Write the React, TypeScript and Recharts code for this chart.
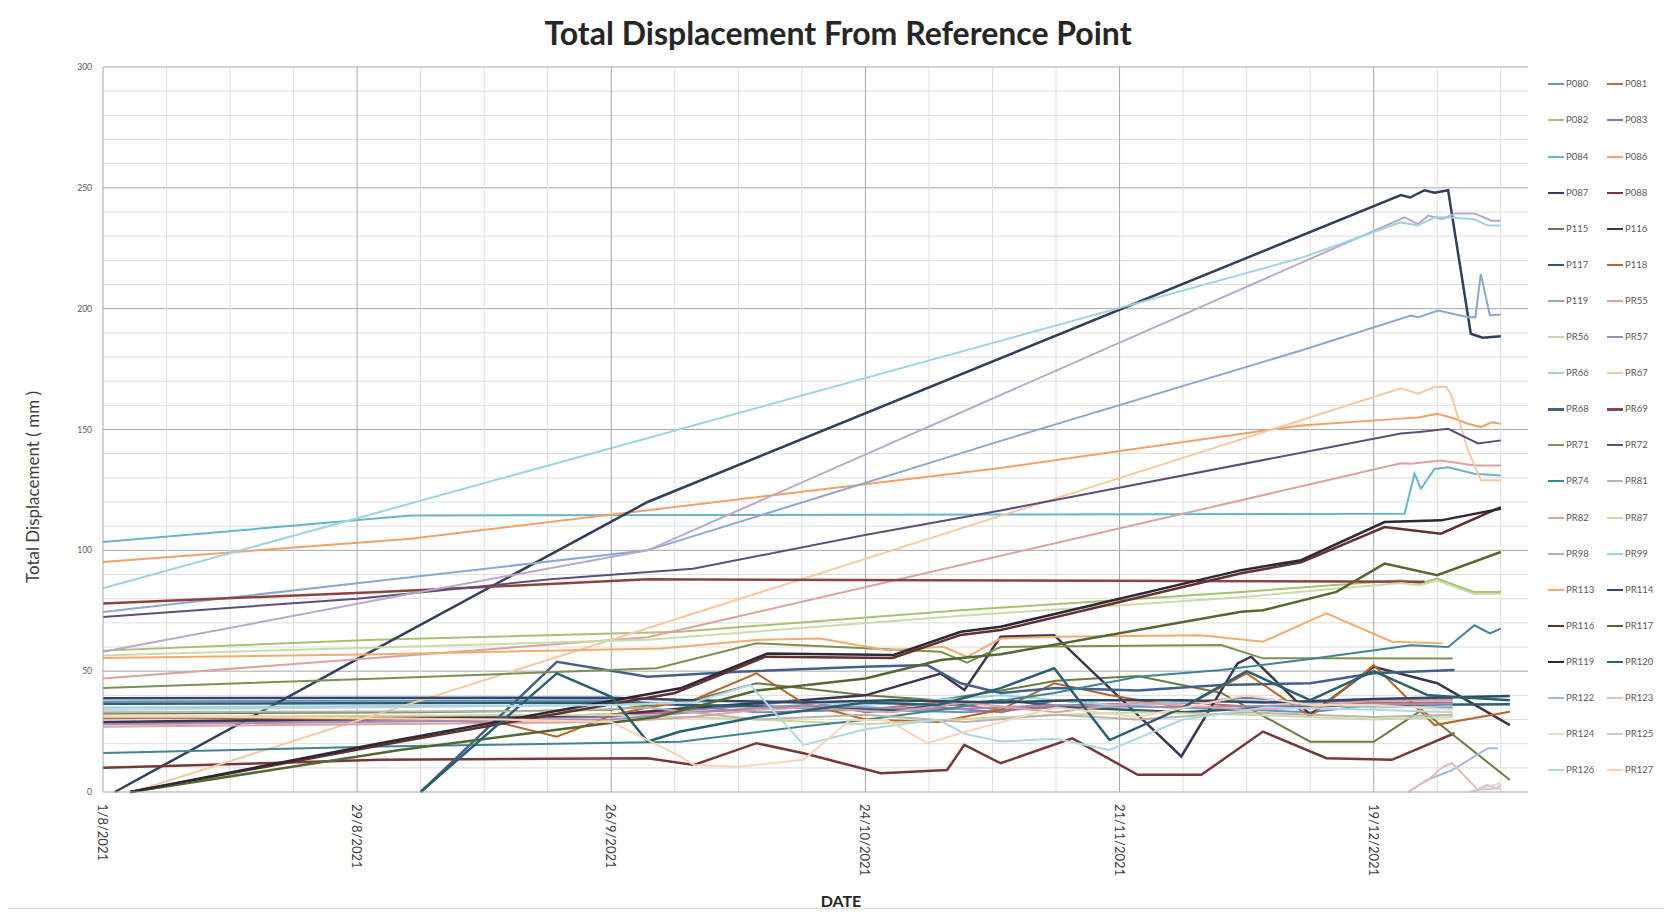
import { LineChart, Line, XAxis, YAxis, ReferenceLine } from "recharts";

// points are [days since 1/8/2021, displacement mm]
type Pt = [number, number];

const START = Date.UTC(2021, 7, 1);
const DATE_TICKS = [0, 28, 56, 84, 112, 140];
const MM_TICKS = [0, 50, 100, 150, 200, 250, 300];

const P080: Pt[] = [[0, 37.5], [56, 38], [60, 37], [72, 33], [84, 34], [95, 33], [105, 35], [114, 35.5], [126, 34], [133, 33], [140, 36], [148.7, 35]];
const P081: Pt[] = [[0, 30.5], [56, 32], [65, 33], [77, 35], [84, 34], [92, 37], [99, 34], [107, 36], [119, 37], [128, 35], [140, 37], [148.7, 37]];
const P082: Pt[] = [[0, 58.5], [30, 63], [63.6, 66.3], [94.5, 75.2], [125.4, 82.8], [143, 87.6], [145, 86.2], [147, 88.3], [151, 82.8], [154, 82.8]];
const P083: Pt[] = [[0, 28.5], [56, 31], [60, 33], [65, 34], [72, 36], [77, 38], [84, 33], [92, 35], [99, 33], [105, 38], [111, 36], [119, 37], [126, 39], [133, 37], [140, 38], [148.7, 38.5]];
const P084: Pt[] = [[0, 103.4], [33.9, 114.4], [143.4, 115.1], [144.5, 131.7], [145.2, 125.5], [146.7, 133.7], [148.2, 134.4], [151.1, 131.7], [154, 131]];
const P086: Pt[] = [[0, 95.2], [33.9, 104.8], [73.6, 122.7], [98.9, 134.1], [132, 151.7], [143, 154.5], [144.9, 155], [147, 156.5], [148.5, 155], [150.4, 152.4], [151.8, 151], [153, 153], [154, 152.4]];
const P087: Pt[] = [[1.3, 0], [28, 55], [60, 120], [143, 247], [144, 246], [145.6, 249], [146.7, 248], [148.2, 249], [150.7, 189.6], [152, 188], [154, 188.6]];
const P088: Pt[] = [[0, 10], [30.5, 13.3], [60, 14], [65.1, 11.2], [72, 20.2], [77.2, 16], [85.7, 7.8], [93, 9.1], [94.9, 19.5], [98.9, 11.9], [106.8, 22.2], [114, 7.1], [121, 7.1], [127.8, 25], [134.8, 14], [142, 13.3], [148.9, 24.3]];
const P115: Pt[] = [[0, 32.5], [35, 33], [56, 34], [65, 38], [72, 45], [84, 40], [92, 38], [99, 42], [105, 46], [114, 48], [123.2, 41], [133, 20.8], [140, 20.8], [145.3, 33.9], [155, 5]];
const P116: Pt[] = [[0, 29], [35, 30.5], [56, 32], [65, 35], [77, 38], [84, 40], [92.3, 49], [94.9, 42.2], [98.9, 64.2], [104.8, 64.9], [118.8, 14.7], [125, 53.2], [126.5, 56], [133, 32], [140, 51.8], [147, 45], [155, 27.7]];
const P117: Pt[] = [[0, 36.5], [56, 37], [65, 36], [77, 35], [87, 34], [99, 38], [107, 35], [119, 33], [128, 35], [140, 36], [155, 36.3]];
const P118: Pt[] = [[0, 31], [35, 30], [44, 28.4], [50, 22.9], [56.2, 31.9], [60, 35], [65, 38], [72, 49.1], [77.2, 36.7], [84, 30], [92, 29], [98.9, 34], [104.8, 45], [111, 40], [119, 35], [126, 49.1], [133, 31.2], [140, 52.5], [146.7, 27.7], [155, 33.2]];
const P119: Pt[] = [[0, 74.5], [28, 86.4], [60, 100], [99, 145.4], [132, 182.7], [144.1, 197.2], [144.9, 196.5], [147.1, 199.2], [150.4, 196.5], [151.2, 196.5], [151.8, 214.4], [152.8, 197.2], [154, 197.6]];
const PR55: Pt[] = [[0, 47], [60, 64], [143, 136], [144.1, 135.8], [147.4, 137.2], [151.1, 135.1], [154, 135.1]];
const PR56: Pt[] = [[0, 31], [56, 32], [72, 30], [84, 28], [99, 31], [114, 33], [126, 32], [140, 30], [148.7, 31]];
const PR57: Pt[] = [[0, 28], [56, 30], [65, 33], [77, 36], [92, 34], [105, 36], [119, 35], [133, 36], [148.7, 36.5]];
const PR66: Pt[] = [[0, 35], [56, 36], [72, 38], [84, 36], [99, 40], [111, 36], [126, 38], [140, 35], [148.7, 35.5]];
const PR67: Pt[] = [[3.3, 0], [143, 167], [144.9, 164.8], [146.7, 167.6], [148, 167.6], [148.5, 164.8], [150.4, 141.3], [151.8, 129], [154, 129]];
const PR68: Pt[] = [[35, 0], [50, 53.9], [60, 47.7], [70, 49.8], [83.8, 51.8], [90.8, 52.5], [94.5, 45], [98.9, 41], [105, 43], [114, 42], [123.2, 44.3], [133, 45], [140, 49.1], [148.9, 50.5]];
const PR69: Pt[] = [[0, 78], [30.5, 82.8], [60, 88], [145.6, 87]];
const PR71: Pt[] = [[0, 43], [30.5, 47], [61, 51.2], [72, 61.5], [84, 59.5], [92.3, 58], [95.2, 53.5], [98.9, 60], [123.2, 60.8], [127.8, 55.3], [133, 55.3], [148.7, 55.2]];
const PR72: Pt[] = [[0, 72.4], [28, 80], [49.3, 88], [65, 92.4], [83.8, 106.2], [98.9, 116.5], [143, 148.3], [145, 149], [148.2, 150.3], [151.5, 144.2], [154, 145.5]];
const PR74: Pt[] = [[0, 16.1], [30.5, 18.8], [63.6, 20.8], [76.8, 27], [83.8, 29.8], [92.3, 34], [104.8, 41], [114, 47.7], [123.2, 50.5], [133, 55], [144.1, 60.7], [148.2, 60], [151.1, 69], [152.8, 65.6], [154, 67.6]];
const PR81: Pt[] = [[0, 33], [50, 33.5], [60, 35], [72, 30], [84, 32], [95, 29], [105, 32], [114, 30], [126, 33], [140, 31], [148.7, 32]];
const PR82: Pt[] = [[0, 27], [56, 29], [65, 31], [72, 34], [77, 35], [87, 33], [95, 37], [105, 33], [114, 37], [126, 34], [133, 35], [140, 38], [148.7, 38]];
const PR87: Pt[] = [[0, 56.5], [60, 63], [95, 73], [125, 80.5], [143, 86.5], [145, 85.5], [147, 87.5], [151, 82], [154, 82]];
const PR98: Pt[] = [[0, 58], [33, 81.4], [60, 100], [143.4, 237.8], [144.9, 235], [146, 238.5], [147.5, 237], [149, 239.4], [151.1, 239.4], [153, 236.4], [154, 236.4]];
const PR99: Pt[] = [[0, 84.3], [132, 221], [143, 235.7], [144.9, 234.4], [146.7, 237.8], [148, 237.8], [151.1, 237], [152.6, 234.4], [154, 234.4]];
const PR113: Pt[] = [[0, 55.4], [30.5, 57], [61.4, 59.4], [72, 62.9], [79, 63.5], [86.4, 58.7], [92.6, 60.1], [95.2, 55.9], [98.9, 63.5], [104.8, 64.2], [121, 64.9], [127.8, 62.2], [134.8, 73.9], [142, 62.2], [147.6, 61.5]];
const PR114: Pt[] = [[0, 38.8], [56, 39], [65, 38], [77, 37], [87, 38], [99, 37], [107, 38], [119, 38], [128, 37], [140, 38.5], [155, 39.7]];
const PR116: Pt[] = [[3, 0], [33, 21], [63, 41], [73, 56], [87, 55.5], [94.5, 65], [98.9, 67], [125.4, 90.5], [132, 95], [141.2, 109.6], [147.4, 106.9], [154, 117.9]];
const PR117: Pt[] = [[3, 0], [32.7, 17.4], [61, 31], [72, 42], [84, 47], [92.3, 54.6], [98.9, 57], [125.4, 74.6], [127.8, 75.2], [135.9, 82.8], [141.2, 94.5], [147, 89.7], [154, 99.3]];
const PR119: Pt[] = [[3, 0], [30.5, 20.2], [63.6, 42.9], [73.2, 57.3], [87.1, 56.7], [94.5, 66.3], [98.9, 68.4], [125.4, 91.8], [132, 95.9], [141.2, 111.7], [147.4, 112.4], [154, 117.2]];
const PR120: Pt[] = [[35, 0], [50, 49.1], [56, 39.4], [60, 20.9], [63.6, 25], [72, 31], [84, 37], [92, 36], [98.9, 43], [104.8, 51.2], [110.9, 21.5], [119, 35], [126, 50], [133, 38], [140, 50], [146, 40], [155, 38]];
const PR122: Pt[] = [[143.8, 0], [145.9, 5], [148.6, 9], [152.6, 18.1], [153.7, 18.1]];
const PR123: Pt[] = [[143.8, 0], [145, 3], [146, 5], [147.5, 10], [148.6, 12], [151.5, 0.9], [154, 1.5]];
const PR124: Pt[] = [[150.5, 0], [152, 2], [153.5, 3], [154, 4]];
const PR125: Pt[] = [[151, 0], [152.5, 3], [153.5, 1.5], [154, 3]];
const PR126: Pt[] = [[0, 34], [56, 36], [65, 37], [71.3, 44.3], [77.2, 19.5], [84, 26], [92, 30], [95, 24], [98.9, 20.9], [105, 22], [110.9, 17.4], [119, 30], [128, 35], [140, 34], [148.7, 33]];
const PR127: Pt[] = [[0, 31.5], [44, 30], [56, 29], [63.6, 14.7], [65.1, 11.2], [70, 10.5], [77.2, 13.3], [82.3, 29.8], [86.4, 29.8], [90.8, 20.2], [94.5, 24.3], [99, 29], [105, 35], [114, 31], [126, 40], [133, 36], [140, 36], [148.7, 34]];

const SERIES: [string, Pt[]][] = [
  ["P080", P080], ["P081", P081], ["P082", P082], ["P083", P083], ["P084", P084],
  ["P086", P086], ["P087", P087], ["P088", P088], ["P115", P115], ["P116", P116],
  ["P117", P117], ["P118", P118], ["P119", P119], ["PR55", PR55], ["PR56", PR56],
  ["PR57", PR57], ["PR66", PR66], ["PR67", PR67], ["PR68", PR68], ["PR69", PR69],
  ["PR71", PR71], ["PR72", PR72], ["PR74", PR74], ["PR81", PR81], ["PR82", PR82],
  ["PR87", PR87], ["PR98", PR98], ["PR99", PR99], ["PR113", PR113], ["PR114", PR114],
  ["PR116", PR116], ["PR117", PR117], ["PR119", PR119], ["PR120", PR120], ["PR122", PR122],
  ["PR123", PR123], ["PR124", PR124], ["PR125", PR125], ["PR126", PR126], ["PR127", PR127],
];

const COLORS: Record<string, string> = {
  P080: "#6A8FC2", P081: "#C76563", P082: "#A6C26E", P083: "#8A74A8", P084: "#66B5CB",
  P086: "#F3A267", P087: "#2F3F5C", P088: "#77383A", P115: "#6B7C43", P116: "#3F3350",
  P117: "#2A5E6C", P118: "#B8652A", P119: "#8BA7D2", PR55: "#DCA2A0", PR56: "#C8D9A6",
  PR57: "#9F8EB8", PR66: "#9DD0DE", PR67: "#F8C8A0", PR68: "#43608A", PR69: "#8C4341",
  PR71: "#7A9150", PR72: "#5F4E7A", PR74: "#408596", PR81: "#BDB3A8", PR82: "#DCA2A0",
  PR87: "#CADBA8", PR98: "#B8A9CB", PR99: "#9DD3E0", PR113: "#F1AC6E", PR114: "#2E4868",
  PR116: "#62302F", PR117: "#546833", PR119: "#2F2838", PR120: "#2A6070", PR122: "#A0BADB",
  PR123: "#E4BCBB", PR124: "#D8E4C2", PR125: "#CFC5DC", PR126: "#AED7E4", PR127: "#F8D3B6",
};

const DARK = new Set(["P087", "P088", "P116", "P117", "PR68", "PR69", "PR114", "PR116", "PR117", "PR119", "PR120"]);

const MINOR_DAYS: number[] = [];
for (let d = 7; d <= 154; d += 7) MINOR_DAYS.push(d);
const MINOR_MM: number[] = [];
for (let v = 10; v <= 300; v += 10) MINOR_MM.push(v);

function fmtDate(days: number) {
  const d = new Date(START + days * 86400000);
  return `${d.getUTCDate()}/${d.getUTCMonth() + 1}/${d.getUTCFullYear()}`;
}

function DateTick({ x, y, payload }: any) {
  return (
    <text
      x={x}
      y={y}
      transform={`rotate(90 ${x} ${y})`}
      textAnchor="start"
      dominantBaseline="central"
      fontSize={13}
      fill="#404040"
    >
      {fmtDate(payload.value)}
    </text>
  );
}

function LegendBox() {
  return (
    <div style={{ position: "absolute", left: 0, top: 0 }}>
      {SERIES.map(([name], i) => {
        const row = Math.floor(i / 2);
        const col = i % 2;
        const top = 84.3 + 36.1 * row;
        const left = col === 0 ? 1548 : 1607;
        return (
          <div key={name}>
            <div
              style={{
                position: "absolute",
                left,
                top: top - 1,
                width: 16,
                height: DARK.has(name) ? 2.5 : 2,
                background: COLORS[name],
              }}
            />
            <div
              style={{
                position: "absolute",
                left: left + 18,
                top: top - 6,
                fontSize: 9.5,
                lineHeight: "12px",
                color: "#595959",
                whiteSpace: "nowrap",
              }}
            >
              {name}
            </div>
          </div>
        );
      })}
    </div>
  );
}

export default function App() {
  return (
    <div
      style={{
        position: "absolute",
        left: 0,
        top: 0,
        width: 1664,
        height: 915,
        background: "#fff",
        fontFamily: "Lato, 'Open Sans', sans-serif",
        overflow: "hidden",
      }}
    >
      <div
        style={{
          position: "absolute",
          left: 838,
          top: 32,
          transform: "translate(-50%, -50%)",
          fontSize: 32,
          fontWeight: 700,
          color: "#262626",
          whiteSpace: "nowrap",
        }}
      >
        Total Displacement From Reference Point
      </div>
      <div
        style={{
          position: "absolute",
          left: 32,
          top: 487,
          transform: "translate(-50%, -50%) rotate(-90deg)",
          fontSize: 17,
          color: "#404040",
          whiteSpace: "nowrap",
        }}
      >
        Total Displacement ( mm )
      </div>
      <div
        style={{
          position: "absolute",
          left: 841,
          top: 900,
          transform: "translate(-50%, -50%)",
          fontSize: 16,
          fontWeight: 700,
          color: "#262626",
        }}
      >
        DATE
      </div>
      <div style={{ position: "absolute", left: 8, top: 908, width: 1656, height: 1, background: "#dcdcdc" }} />
      <LineChart width={1664} height={915} margin={{ top: 67, right: 136, bottom: 23, left: 63 }}>
        <XAxis
          dataKey="d"
          type="number"
          domain={[0, 157]}
          ticks={DATE_TICKS}
          interval={0}
          height={100}
          tick={<DateTick />}
          tickLine={false}
          tickSize={0}
          tickMargin={12}
          axisLine={{ stroke: "#a6a6a6" }}
        />
        <YAxis
          type="number"
          domain={[0, 300]}
          ticks={MM_TICKS}
          interval={0}
          width={40}
          tickLine={false}
          tickSize={6}
          tickMargin={5}
          tick={{ fontSize: 8.5, fill: "#595959" }}
          axisLine={{ stroke: "#a6a6a6" }}
        />
        {MINOR_MM.map((v) => (
          <ReferenceLine key={`h${v}`} y={v} stroke={v % 50 === 0 ? "#a6a6a6" : "#dedede"} strokeWidth={1} />
        ))}
        {MINOR_DAYS.map((d) => (
          <ReferenceLine key={`v${d}`} x={d} stroke={d % 28 === 0 ? "#a6a6a6" : "#dedede"} strokeWidth={1} />
        ))}
        {SERIES.map(([name, pts]) => (
          <Line
            key={name}
            name={name}
            data={pts.map(([d, v]) => ({ d, v }))}
            dataKey="v"
            type="linear"
            stroke={COLORS[name]}
            strokeWidth={DARK.has(name) ? 2.5 : 2}
            dot={false}
            activeDot={false}
            isAnimationActive={false}
          />
        ))}
      </LineChart>
      <LegendBox />
    </div>
  );
}
